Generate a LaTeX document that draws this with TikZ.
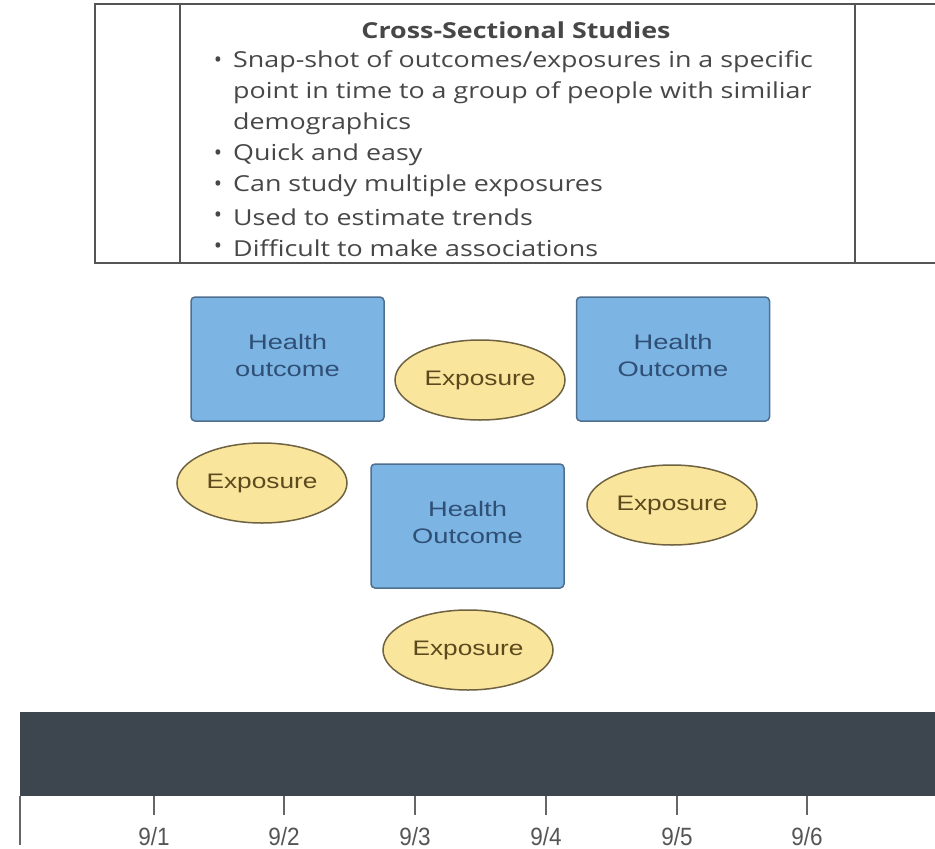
\documentclass[tikz,border=0pt]{standalone}
\usepackage{fontspec}
\setmainfont{Open Sans}
\newfontfamily\arialf{Liberation Sans}
\usetikzlibrary{shapes.geometric}

\definecolor{tblline}{HTML}{555555}
\definecolor{tbltext}{HTML}{474747}
\definecolor{boxfill}{HTML}{7CB4E4}
\definecolor{boxdraw}{HTML}{4F6F8F}
\definecolor{boxtext}{HTML}{2F4F75}
\definecolor{ellfill}{HTML}{F9E59C}
\definecolor{elldraw}{HTML}{6E6240}
\definecolor{elltext}{HTML}{5C4A1E}
\definecolor{barcol}{HTML}{3D464F}
\definecolor{axiscol}{HTML}{666666}
\definecolor{lblcol}{HTML}{555555}

% horizontally stretched / narrowed text
\newcommand{\wideline}[1]{\scalebox{1.3}[1]{#1}}
\newcommand{\wideexp}[1]{\scalebox{1.25}[1]{#1}}
\newcommand{\tblwide}[1]{\scalebox{1.22}[1]{#1}}
\newcommand{\narrowlbl}[1]{\scalebox{0.9}[1]{#1}}
% two-line caption of an outcome box, sitting a little above the middle
\newcommand{\outcometext}[2]{\wideline{#1}\\[-1pt]\wideline{#2}\rule[-7pt]{0pt}{7pt}}

\tikzset{
  outcomebox/.style={draw=boxdraw, fill=boxfill, line width=1.5pt, rounded corners=4pt,
    minimum width=193pt, minimum height=124pt, align=center, text=boxtext,
    font=\arialf\fontsize{21}{28}\selectfont, inner sep=0pt},
  exposure/.style={ellipse, draw=elldraw, fill=ellfill, line width=1.5pt,
    minimum width=170pt, minimum height=80pt, text=elltext,
    font=\arialf\fontsize{21}{26}\selectfont, inner sep=0pt},
  tline/.style={anchor=west, text=tbltext, font=\fontsize{22}{26}\selectfont, inner sep=0pt},
  tbullet/.style={text=tbltext, font=\fontsize{22}{24}\selectfont, inner sep=0pt},
  datelbl/.style={text=lblcol, font=\arialf\fontsize{25}{27}\selectfont, inner sep=0pt},
}

\begin{document}
\begin{tikzpicture}[x=1pt, y=-1pt]
\useasboundingbox[fill=white] (0,0) rectangle (935,849);

% summary table
\draw[tblline, line width=2pt] (935,4) -- (95,4) -- (95,263) -- (935,263);
\draw[tblline, line width=2pt] (180,4) -- (180,263);
\draw[tblline, line width=2pt] (855,4) -- (855,263);

\node[text=tbltext, font=\bfseries\fontsize{22}{26}\selectfont, inner sep=0pt] (title) at (516,30) {\tblwide{Cross-Sectional Studies}};
\foreach \y/\nm/\txt/\b in {
  62/l1/{Snap-shot of outcomes/exposures in a specific}/1,
  93/l2/{point in time to a group of people with similiar}/0,
  124/l3/{demographics}/0,
  155/l4/{Quick and easy}/1,
  186/l5/{Can study multiple exposures}/1,
  217/l6/{Used to estimate trends}/1,
  248/l7/{Difficult to make associations}/1} {
  \node[tline] (\nm) at (233,\y) {\tblwide{\txt}};
  \ifnum\b=1 \node[tbullet] (b\nm) at (218,\y) {\textbullet}; \fi
}

% health outcomes and exposures
\node[outcomebox] (ho1) at (287.5,359) {\outcometext{Health}{outcome}};
\node[outcomebox] (ho2) at (673,359) {\outcometext{Health}{Outcome}};
\node[outcomebox] (ho3) at (467.5,526) {\outcometext{Health}{Outcome}};

\node[exposure] (ex1) at (480,380) {\wideexp{Exposure}};
\node[exposure] (ex2) at (262,483) {\wideexp{Exposure}};
\node[exposure] (ex3) at (672,505) {\wideexp{Exposure}};
\node[exposure] (ex4) at (468,650) {\wideexp{Exposure}};

% timeline
\fill[barcol] (20,712) rectangle (935,796);
\coordinate (axtop) at (20,796);
\coordinate (axbot) at (20,845);
\draw[axiscol, line width=1.5pt] (axtop) -- (axbot);
\foreach \x/\d in {154/1, 284/2, 415/3, 546/4, 677/5, 807/6} {
  \coordinate (t\d) at (\x,796);
  \coordinate (tb\d) at (\x,815);
  \draw[axiscol, line width=1.5pt] (t\d) -- (tb\d);
  \node[datelbl, anchor=base] (d\d) at (\x,845) {\narrowlbl{9/\d}};
}
\end{tikzpicture}
\end{document}
